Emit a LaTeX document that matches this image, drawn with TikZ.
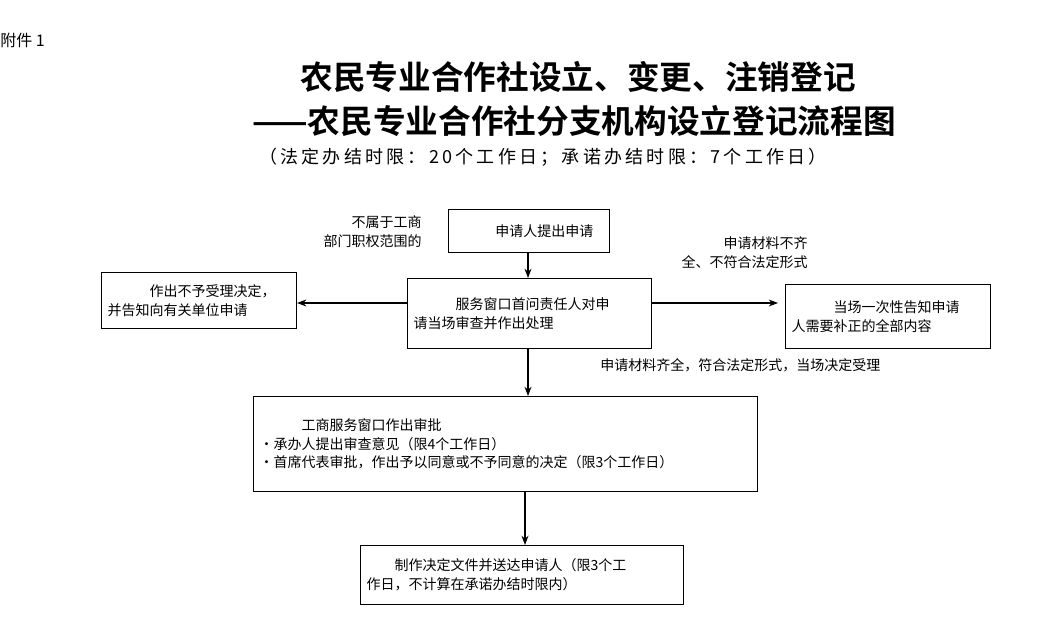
\documentclass[tikz,border=0pt]{standalone}
\usepackage{fontspec}
\setmainfont{Noto Sans CJK SC}
\newfontfamily\cjkbold{Noto Sans CJK SC Bold}
\newfontfamily\cjkspaced[LetterSpace=18]{Noto Sans CJK SC}
\usetikzlibrary{arrows.meta}
\tikzset{
  box/.style={draw, thick, align=left, font=\fontsize{10.5}{14}\selectfont, inner sep=4pt, anchor=north west},
  lab/.style={align=left, font=\fontsize{10.5}{14}\selectfont, inner sep=0pt},
  arr/.style={-{Stealth[length=7pt]}, thick}
}
\begin{document}
\begin{tikzpicture}[x=0.75pt, y=-0.75pt]
  \useasboundingbox (0,0) rectangle (1059,634);
  \node[lab, anchor=west] (att) at (0,40) {\fontsize{12}{14}\selectfont 附件 1};
  \node[lab, font=\cjkbold\fontsize{24.5}{28}\selectfont] (t1) at (578,77) {农民专业合作社设立、变更、注销登记};
  \node[lab, font=\cjkbold\fontsize{24.5}{28}\selectfont] (t2) at (574,121) {——农民专业合作社分支机构设立登记流程图};
  \node[lab, font=\cjkspaced\fontsize{13.5}{16}\selectfont] (t3) at (543,157) {（法定办结时限：20个工作日；承诺办结时限：7个工作日）};
  % boxes
  \node[box, minimum width=161*0.75pt, minimum height=43*0.75pt] (apply) at (448,209) {\hspace{2.2em}申请人提出申请};
  \node[box, minimum width=244*0.75pt, minimum height=70*0.75pt, text width=232*0.75pt] (window) at (407,278) {\hspace{3em}服务窗口首问责任人对申\\请当场审查并作出处理};
  \node[box, minimum width=195*0.75pt, minimum height=56*0.75pt, text width=183*0.75pt] (reject) at (101,272) {\hspace{3em}作出不予受理决定，\\并告知向有关单位申请};
  \node[box, minimum width=205*0.75pt, minimum height=64*0.75pt, text width=193*0.75pt] (notify) at (785,284) {\hspace{3em}当场一次性告知申请\\人需要补正的全部内容};
  \node[box, minimum width=504*0.75pt, minimum height=95*0.75pt, text width=492*0.75pt, inner sep=3pt] (approve) at (253,396) {\hspace{3em}工商服务窗口作出审批\\·承办人提出审查意见（限4个工作日）\\·首席代表审批，作出予以同意或不予同意的决定（限3个工作日）};
  \node[box, minimum width=323*0.75pt, minimum height=59*0.75pt, text width=311*0.75pt] (deliver) at (360,545) {\hspace{2em}制作决定文件并送达申请人（限3个工\\作日，不计算在承诺办结时限内）};
  % labels
  \node[lab, align=right, anchor=east] (l1) at (422,232) {不属于工商\\部门职权范围的};
  \node[lab, align=right, anchor=east] (l2) at (808,253) {申请材料不齐\\全、不符合法定形式};
  \node[lab, anchor=west] (l3) at (600,365) {申请材料齐全，符合法定形式，当场决定受理};
  % arrows
  \draw[arr] (apply.south -| 528,0) -- (window.north -| 528,0);
  \draw[arr] (window.south -| 528,0) -- (approve.north -| 528,0);
  \draw[arr] (approve.south -| 525,0) -- (deliver.north -| 525,0);
  \draw[arr] (window.west |- 0,303) -- (reject.east |- 0,303);
  \draw[arr] (window.east |- 0,303) -- (778,303);
\end{tikzpicture}
\end{document}
